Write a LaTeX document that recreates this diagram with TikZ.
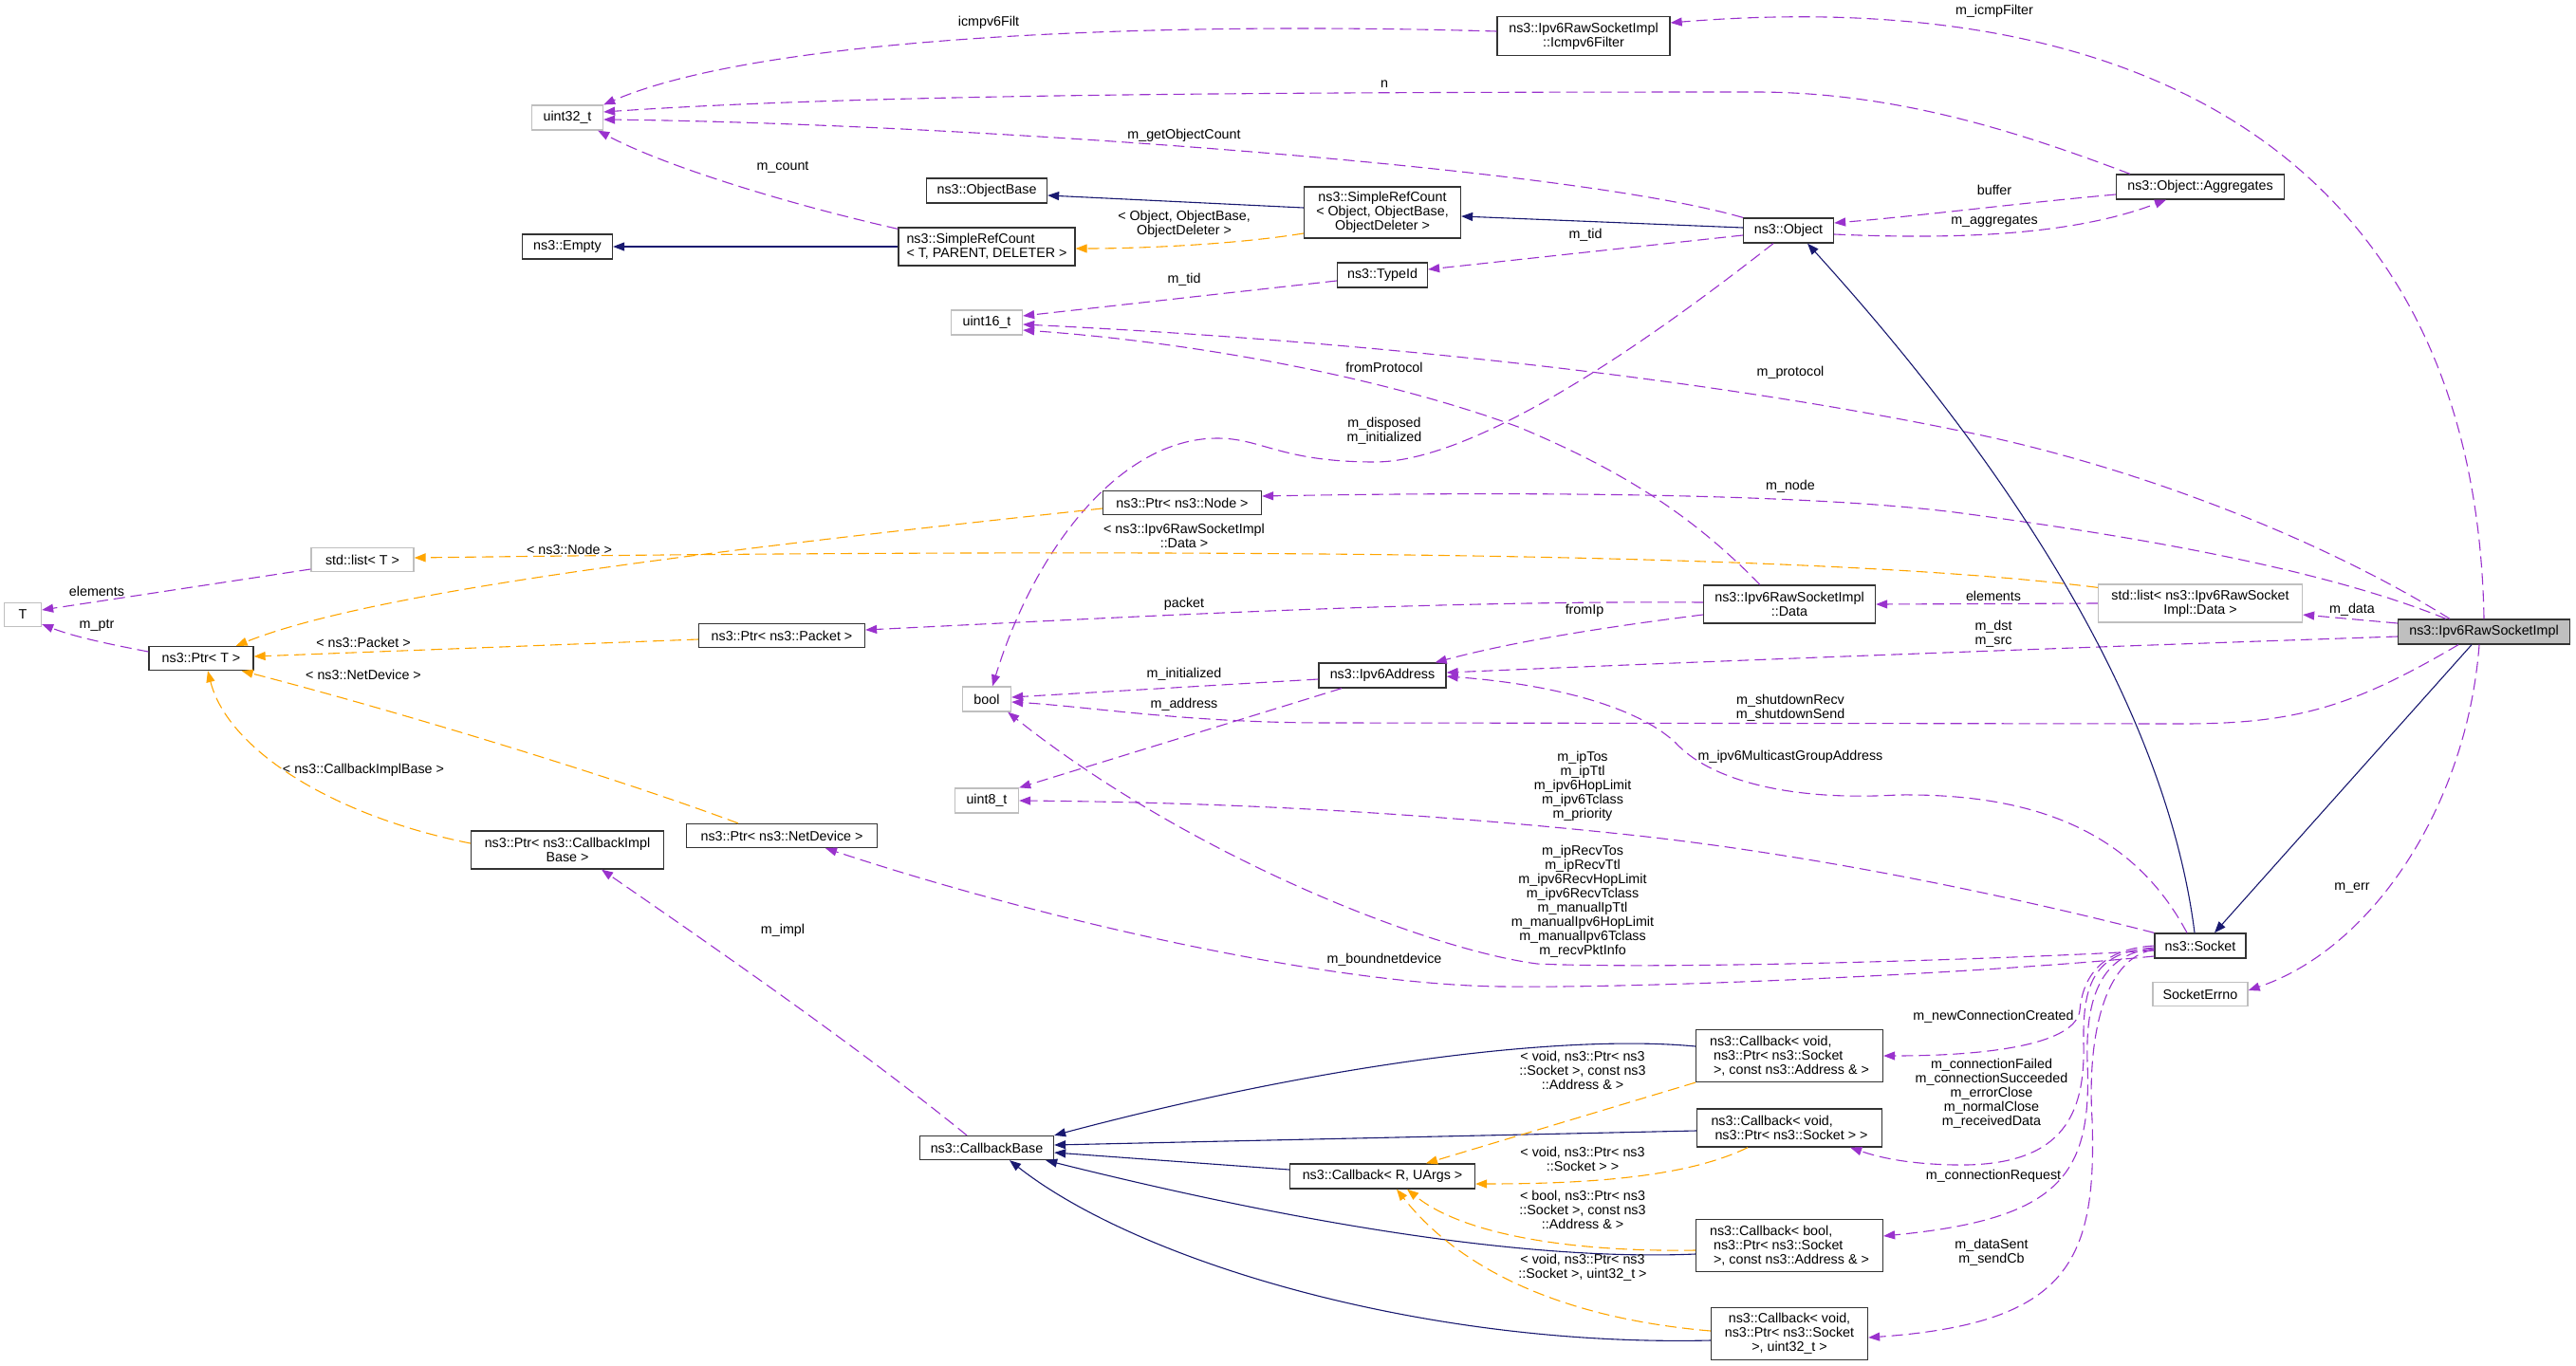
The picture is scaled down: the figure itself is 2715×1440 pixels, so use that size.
\documentclass[tikz,border=0pt]{standalone}
\usepackage{fontspec}
\setmainfont{Liberation Sans}
\usetikzlibrary{arrows.meta}
\definecolor{memcol}{HTML}{9A32CD}
\definecolor{tplcol}{HTML}{FFA500}
\definecolor{inhcol}{HTML}{191970}
\definecolor{extcol}{HTML}{BFBFBF}
\begin{document}
\begin{tikzpicture}[x=1pt,y=-1pt,font=\fontsize{14.3}{15}\selectfont,
  cls/.style={draw=black!80,fill=white,line width=1.3pt,inner sep=0pt,align=center},
  ext/.style={cls,draw=extcol},
  self/.style={cls,fill=extcol},
  lbl/.style={inner sep=0pt,align=center},
  mem/.style={draw=memcol,line width=1.1pt,dash pattern=on 12pt off 6pt,-{Triangle[length=12pt,width=9pt]}},
  tpl/.style={mem,draw=tplcol},
  inh/.style={draw=inhcol,line width=1.1pt,-{Triangle[length=12pt,width=9pt]}}]
  \useasboundingbox (0,0) rectangle (2715,1440);
  % classes
  \node[cls,minimum width=182pt,minimum height=41pt] (icmp) at (1669,38) {ns3::Ipv6RawSocketImpl\\::Icmpv6Filter};
  \node[ext,minimum width=75pt,minimum height=26pt] (u32) at (598,124) {uint32\_t};
  \node[cls,minimum width=95pt,minimum height=26pt] (empty) at (598,260) {ns3::Empty};
  \node[cls,minimum width=127pt,minimum height=26pt] (objbase) at (1040,201) {ns3::ObjectBase};
  \node[cls,minimum width=186pt,minimum height=40pt,align=left] (srcT) at (1040,260) {ns3::SimpleRefCount\\< T, PARENT, DELETER >};
  \node[cls,minimum width=165pt,minimum height=54pt] (srcObj) at (1457,224) {ns3::SimpleRefCount\\< Object, ObjectBase,\\ObjectDeleter >};
  \node[cls,minimum width=95pt,minimum height=26pt] (obj) at (1885,243) {ns3::Object};
  \node[cls,minimum width=95pt,minimum height=26pt] (typeid) at (1457,290) {ns3::TypeId};
  \node[cls,minimum width=177pt,minimum height=26pt] (aggr) at (2319,197) {ns3::Object::Aggregates};
  \node[ext,minimum width=75pt,minimum height=26pt] (u16) at (1040,340) {uint16\_t};
  \node[ext,minimum width=39pt,minimum height=25pt] (T) at (24,648) {T};
  \node[ext,minimum width=108pt,minimum height=25pt] (listT) at (382,590) {std::list< T >};
  \node[cls,minimum width=110pt,minimum height=25pt] (ptrT) at (212,694) {ns3::Ptr< T >};
  \node[cls,minimum width=167pt,minimum height=25pt] (ptrNode) at (1246,530) {ns3::Ptr< ns3::Node >};
  \node[cls,minimum width=175pt,minimum height=25pt] (ptrPacket) at (824,670) {ns3::Ptr< ns3::Packet >};
  \node[ext,minimum width=51pt,minimum height=26pt] (bool) at (1040,737) {bool};
  \node[ext,minimum width=67pt,minimum height=26pt] (u8) at (1040,844) {uint8\_t};
  \node[cls,minimum width=201pt,minimum height=25pt] (ptrNetDev) at (824,881) {ns3::Ptr< ns3::NetDevice >};
  \node[cls,minimum width=203pt,minimum height=40pt] (ptrCbib) at (598,896) {ns3::Ptr< ns3::CallbackImpl\\Base >};
  \node[cls,minimum width=141pt,minimum height=25pt] (cbBase) at (1040,1210) {ns3::CallbackBase};
  \node[cls,minimum width=181pt,minimum height=40pt] (data) at (1886,637) {ns3::Ipv6RawSocketImpl\\::Data};
  \node[cls,minimum width=134pt,minimum height=26pt] (ipv6addr) at (1457,712) {ns3::Ipv6Address};
  \node[ext,minimum width=215pt,minimum height=40pt] (listData) at (2319,636) {std::list< ns3::Ipv6RawSocket\\Impl::Data >};
  \node[self,minimum width=181pt,minimum height=26pt] (raw) at (2618,666) {ns3::Ipv6RawSocketImpl};
  \node[cls,minimum width=96pt,minimum height=26pt] (socket) at (2319,997) {ns3::Socket};
  \node[ext,minimum width=100pt,minimum height=25pt] (errno) at (2319,1048) {SocketErrno};
  \node[cls,minimum width=197pt,minimum height=55pt,align=left] (cb1) at (1886,1113) {ns3::Callback< void,\\\hspace*{4pt}ns3::Ptr< ns3::Socket\\\hspace*{4pt}>, const ns3::Address \& >};
  \node[cls,minimum width=195pt,minimum height=40pt,align=left] (cb2) at (1886,1189) {ns3::Callback< void,\\\hspace*{4pt}ns3::Ptr< ns3::Socket > >};
  \node[cls,minimum width=195pt,minimum height=26pt] (cbRU) at (1457,1240) {ns3::Callback< R, UArgs >};
  \node[cls,minimum width=197pt,minimum height=55pt,align=left] (cb3) at (1886,1313) {ns3::Callback< bool,\\\hspace*{4pt}ns3::Ptr< ns3::Socket\\\hspace*{4pt}>, const ns3::Address \& >};
  \node[cls,minimum width=165pt,minimum height=55pt] (cb4) at (1886,1406) {ns3::Callback< void,\\ns3::Ptr< ns3::Socket\\>, uint32\_t >};
  % connectors
  \draw[mem] ([yshift=5pt]icmp.west) .. controls (1200,22) and (800,40) .. (u32.north east);
  \draw[mem] (raw.north) .. controls (2610,200) and (2300,-20) .. ([yshift=14pt]icmp.east);
  \draw[mem] ([xshift=-74pt]aggr.north) .. controls (2130,140) and (2000,97) .. (1850,97) .. controls (1300,97) and (900,100) .. ([yshift=6pt]u32.east);
  \draw[mem] (obj.north west) .. controls (1650,175) and (1000,130) .. ([yshift=-2pt]u32.east);
  \draw[mem] ([yshift=-2pt]srcT.north west) .. controls (830,215) and (700,175) .. ([xshift=-6pt]u32.south east);
  \draw[inh] (srcT.west) -- (empty.east);
  \draw[inh] ([yshift=5pt]srcObj.west) -- ([yshift=-5pt]objbase.east);
  \draw[tpl] ([yshift=-22pt]srcObj.west) .. controls (1300,258) and (1200,262) .. ([yshift=-2pt]srcT.east);
  \draw[inh] ([yshift=3pt]obj.west) -- ([yshift=-4pt]srcObj.east);
  \draw[mem] ([yshift=-5pt]obj.west) -- ([yshift=6pt]typeid.east);
  \draw[mem] ([yshift=-6pt]typeid.west) -- ([yshift=7pt]u16.east);
  \draw[mem] ([yshift=-8pt]aggr.west) .. controls (2120,215) and (2020,228) .. ([yshift=8pt]obj.east);
  \draw[mem] ([yshift=-4pt]obj.east) .. controls (2050,252) and (2180,250) .. ([xshift=-36pt]aggr.south);
  \draw[mem] ([xshift=-36pt]raw.north) .. controls (2450,570) and (2250,490) .. (2060,453) .. controls (1800,400) and (1450,360) .. ([yshift=-2pt]u16.east);
  \draw[mem] ([xshift=-31pt]data.north) .. controls (1790,550) and (1720,500) .. (1600,450) .. controls (1450,395) and (1250,360) .. ([yshift=-8pt]u16.east);
  \draw[mem] ([xshift=-16pt]obj.south) .. controls (1750,350) and (1560,487) .. (1449,487) .. controls (1350,487) and (1330,462) .. (1283,462) .. controls (1180,462) and (1090,580) .. ([xshift=6pt]bool.north);
  \draw[mem] ([xshift=-40pt]raw.north) .. controls (2450,600) and (2250,565) .. (2060,540) .. controls (1900,520) and (1600,518) .. ([yshift=7pt]ptrNode.east);
  \draw[tpl] ([yshift=-4pt]listData.north west) .. controls (1900,580) and (1200,578) .. ([yshift=2pt]listT.east);
  \draw[tpl] ([yshift=-6pt]ptrNode.west) .. controls (800,575) and (400,620) .. ([xshift=-19pt]ptrT.north east);
  \draw[mem] ([yshift=2pt]data.west) .. controls (1500,633) and (1200,650) .. ([yshift=6pt]ptrPacket.east);
  \draw[tpl] ([yshift=-4pt]ptrPacket.west) -- ([yshift=2pt]ptrT.east);
  \draw[tpl] ([xshift=-46pt]ptrNetDev.north) .. controls (650,820) and (420,750) .. ([xshift=-13pt]ptrT.south east);
  \draw[tpl] ([yshift=7pt]ptrCbib.west) .. controls (350,860) and (240,790) .. ([xshift=7pt]ptrT.south);
  \draw[mem] ([yshift=-10pt]listT.west) -- ([yshift=5pt]T.east);
  \draw[mem] ([yshift=7pt]ptrT.west) .. controls (120,680) and (80,672) .. ([yshift=-10pt]T.east);
  \draw[mem] ([yshift=-11pt]data.west) .. controls (1700,660) and (1600,675) .. ([xshift=-12pt]ipv6addr.north east);
  \draw[mem] (listData.west) -- (data.east);
  \draw[mem] ([yshift=9pt]raw.west) -- ([yshift=-12pt]listData.east);
  \draw[mem] ([yshift=-5pt]raw.west) .. controls (2200,682) and (1800,697) .. ([yshift=3pt]ipv6addr.east);
  \draw[mem] ([yshift=-4pt]ipv6addr.west) -- ([yshift=2pt]bool.east);
  \draw[mem] ([xshift=-43pt]ipv6addr.south) -- (u8.north east);
  \draw[mem] ([xshift=-27pt]raw.south) .. controls (2480,745) and (2420,763) .. (2300,763) -- (1400,762) .. controls (1250,762) and (1150,745) .. ([yshift=-3pt]bool.east);
  \draw[mem] ([xshift=-14pt]socket.north) .. controls (2250,880) and (2150,836) .. (2000,838) .. controls (1880,845) and (1800,820) .. (1766,783) .. controls (1720,740) and (1620,720) .. ([yshift=-1pt]ipv6addr.east);
  \draw[mem] (socket.north west) .. controls (2180,960) and (1950,905) .. (1717,880) .. controls (1500,857) and (1300,846) .. (u8.east);
  \draw[mem] ([yshift=-5pt]socket.west) .. controls (2100,1012) and (1750,1022) .. (1620,1016) .. controls (1500,1000) and (1250,900) .. ([xshift=-4pt]bool.south east);
  \draw[mem] ([yshift=-11pt]socket.west) .. controls (2100,1025) and (1750,1042) .. (1583,1040) .. controls (1400,1038) and (1100,970) .. ([xshift=46pt]ptrNetDev.south);
  \draw[mem] ([xshift=-21pt]cbBase.north) .. controls (900,1100) and (740,990) .. ([xshift=36pt]ptrCbib.south);
  \draw[inh] ([yshift=10pt]cb1.west) .. controls (1650,1090) and (1400,1120) .. (cbBase.north east);
  \draw[inh] ([yshift=-3pt]cb2.west) -- ([yshift=3pt]cbBase.east);
  \draw[inh] ([yshift=7pt]cbRU.west) -- ([yshift=-5pt]cbBase.east);
  \draw[inh] ([yshift=-9pt]cb3.west) .. controls (1600,1330) and (1350,1285) .. ([xshift=-9pt]cbBase.south east);
  \draw[inh] ([yshift=-7pt]cb4.west) .. controls (1500,1420) and (1200,1330) .. ([xshift=24pt]cbBase.south);
  \draw[tpl] (cb1.south west) -- ([xshift=46pt]cbRU.north);
  \draw[tpl] ([xshift=-44pt]cb2.south) .. controls (1780,1240) and (1680,1248) .. ([yshift=-8pt]cbRU.east);
  \draw[tpl] ([yshift=-5pt]cb3.west) .. controls (1650,1320) and (1540,1300) .. ([xshift=26pt]cbRU.south);
  \draw[tpl] ([yshift=3pt]cb4.west) .. controls (1650,1390) and (1540,1340) .. ([xshift=15pt]cbRU.south);
  \draw[mem] (socket.west) .. controls (2215,1000) and (2195,1030) .. (2192,1065) .. controls (2188,1100) and (2100,1113) .. (cb1.east);
  \draw[mem] ([yshift=-2pt]socket.west) .. controls (2205,1003) and (2195,1040) .. (2196,1100) .. controls (2198,1180) and (2170,1230) .. (2060,1228) .. controls (2010,1227) and (1980,1220) .. ([xshift=-34pt]cb2.south east);
  \draw[mem] ([yshift=-3pt]socket.west) .. controls (2210,1005) and (2198,1060) .. (2200,1120) .. controls (2205,1240) and (2170,1285) .. ([yshift=10pt]cb3.east);
  \draw[mem] ([yshift=-4pt]socket.west) .. controls (2215,1010) and (2200,1100) .. (2205,1180) .. controls (2210,1330) and (2180,1395) .. ([yshift=-4pt]cb4.east);
  \draw[inh] ([xshift=-13pt]raw.south) -- ([xshift=15pt]socket.north);
  \draw[inh] ([xshift=-6pt]socket.north) .. controls (2290,800) and (2180,560) .. ([xshift=20pt]obj.south);
  \draw[mem] ([xshift=-5pt]raw.south) .. controls (2600,850) and (2500,1000) .. ([yshift=4pt]errno.east);
  % labels
  \node[lbl] (lIcmpFilt) at (1042,24) {icmpv6Filt};
  \node[lbl] (lIcmpFilter) at (2102,12) {m\_icmpFilter};
  \node[lbl] (lN) at (1459,89) {n};
  \node[lbl] (lGetCount) at (1248,143) {m\_getObjectCount};
  \node[lbl] (lCount) at (825,176) {m\_count};
  \node[lbl] (lBuffer) at (2102,200) {buffer};
  \node[lbl] (lAggr) at (2102,233) {m\_aggregates};
  \node[lbl] (lSrcObj) at (1248,236) {< Object, ObjectBase,\\ObjectDeleter >};
  \node[lbl] (lTidObj) at (1671,248) {m\_tid};
  \node[lbl] (lTidType) at (1248,295) {m\_tid};
  \node[lbl] (lFromProt) at (1459,387) {fromProtocol};
  \node[lbl] (lProt) at (1887,393) {m\_protocol};
  \node[lbl] (lDisp) at (1459,454) {m\_disposed\\m\_initialized};
  \node[lbl] (lNode) at (1887,513) {m\_node};
  \node[lbl] (lListData) at (1248,565) {< ns3::Ipv6RawSocketImpl\\::Data >};
  \node[lbl] (lPtrNode) at (600,579) {< ns3::Node >};
  \node[lbl] (lElemT) at (102,623) {elements};
  \node[lbl] (lPtr) at (102,659) {m\_ptr};
  \node[lbl] (lPacketT) at (383,677) {< ns3::Packet >};
  \node[lbl] (lNetDevT) at (383,711) {< ns3::NetDevice >};
  \node[lbl] (lCbibT) at (383,812) {< ns3::CallbackImplBase >};
  \node[lbl] (lPacket) at (1248,637) {packet};
  \node[lbl] (lFromIp) at (1670,644) {fromIp};
  \node[lbl] (lElemData) at (2101,628) {elements};
  \node[lbl] (lData) at (2479,643) {m\_data};
  \node[lbl] (lDst) at (2101,668) {m\_dst\\m\_src};
  \node[lbl] (lInit) at (1248,711) {m\_initialized};
  \node[lbl] (lAddr) at (1248,743) {m\_address};
  \node[lbl] (lShut) at (1887,746) {m\_shutdownRecv\\m\_shutdownSend};
  \node[lbl] (lMcast) at (1887,798) {m\_ipv6MulticastGroupAddress};
  \node[lbl] (lIpTos) at (1668,829) {m\_ipTos\\m\_ipTtl\\m\_ipv6HopLimit\\m\_ipv6Tclass\\m\_priority};
  \node[lbl] (lRecv) at (1668,950) {m\_ipRecvTos\\m\_ipRecvTtl\\m\_ipv6RecvHopLimit\\m\_ipv6RecvTclass\\m\_manualIpTtl\\m\_manualIpv6HopLimit\\m\_manualIpv6Tclass\\m\_recvPktInfo};
  \node[lbl] (lBound) at (1459,1012) {m\_boundnetdevice};
  \node[lbl] (lImpl) at (825,981) {m\_impl};
  \node[lbl] (lErr) at (2479,936) {m\_err};
  \node[lbl] (lNewConn) at (2101,1072) {m\_newConnectionCreated};
  \node[lbl] (lConnFail) at (2099,1153) {m\_connectionFailed\\m\_connectionSucceeded\\m\_errorClose\\m\_normalClose\\m\_receivedData};
  \node[lbl] (lConnReq) at (2101,1240) {m\_connectionRequest};
  \node[lbl] (lSent) at (2099,1320) {m\_dataSent\\m\_sendCb};
  \node[lbl] (lCbOne) at (1668,1128) {< void, ns3::Ptr< ns3\\::Socket >, const ns3\\::Address \& >};
  \node[lbl] (lCbTwo) at (1668,1222) {< void, ns3::Ptr< ns3\\::Socket > >};
  \node[lbl] (lCbThree) at (1668,1275) {< bool, ns3::Ptr< ns3\\::Socket >, const ns3\\::Address \& >};
  \node[lbl] (lCbFour) at (1668,1336) {< void, ns3::Ptr< ns3\\::Socket >, uint32\_t >};
\end{tikzpicture}
\end{document}
